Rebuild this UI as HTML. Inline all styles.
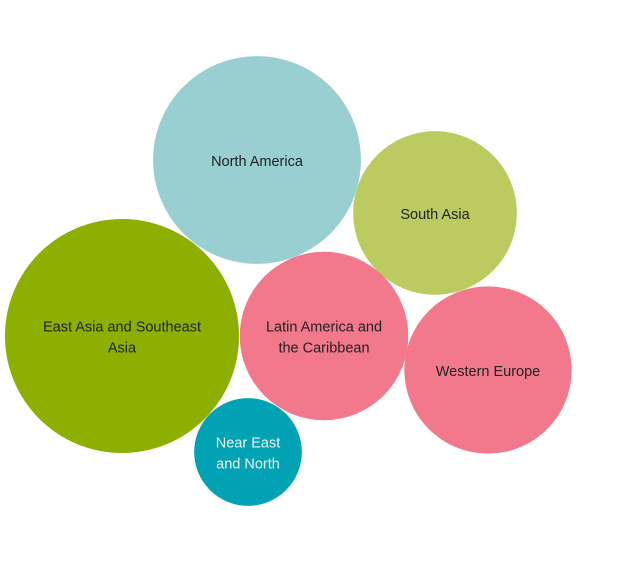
<!DOCTYPE html>
<html>
<head>
<meta charset="utf-8">
<style>
  html, body { margin: 0; padding: 0; background: #fff; }
  svg { display: block; }
  text { font-family: "Liberation Sans", "DejaVu Sans", sans-serif; font-size: 14.5px; }
</style>
</head>
<body>
<svg id="chart" width="635" height="561" viewBox="0 0 635 561"></svg>
<script>
const categories = ["North America", "South Asia", "East Asia and Southeast Asia", "Latin America and the Caribbean", "Western Europe", "Near East and North"];
const values = [108, 67, 137, 71, 70, 29];
const colors = ["#99cfd1", "#bbcb5f", "#8db000", "#f2788c", "#f2788c", "#00a2b3"];
const labelLines = [["North America"], ["South Asia"], ["East Asia and Southeast", "Asia"], ["Latin America and", "the Caribbean"], ["Western Europe"], ["Near East", "and North"]];
const textColors = ["#222", "#222", "#222", "#222", "#222", "#e8f6f8"];
// packed layout centres (layout, not data)
const layoutCx = [257, 435, 122, 324, 488, 248];
const layoutCy = [160, 213, 336, 336, 370, 452];

function rScale(v) { return Math.sqrt(v) * 10; }

const svg = document.getElementById('chart');
const NS = 'http://www.w3.org/2000/svg';
categories.forEach((c, i) => {
  const g = document.createElementNS(NS, 'g');
  
  
  const circ = document.createElementNS(NS, 'circle');
  circ.setAttribute('cx', layoutCx[i]);
  circ.setAttribute('cy', layoutCy[i]);
  circ.setAttribute('r', rScale(values[i]));
  circ.setAttribute('fill', colors[i]);
  
  
  g.appendChild(circ);
  const lines = labelLines[i];
  lines.forEach((ln, j) => {
    const t = document.createElementNS(NS, 'text');
    t.setAttribute('x', layoutCx[i]);
    t.setAttribute('y', layoutCy[i] + 6 + (j - (lines.length - 1) / 2) * 21);
    t.setAttribute('text-anchor', 'middle');
    t.setAttribute('fill', textColors[i]);
    
    
    t.textContent = ln;
    g.appendChild(t);
  });
  svg.appendChild(g);
});
</script>
</body>
</html>
